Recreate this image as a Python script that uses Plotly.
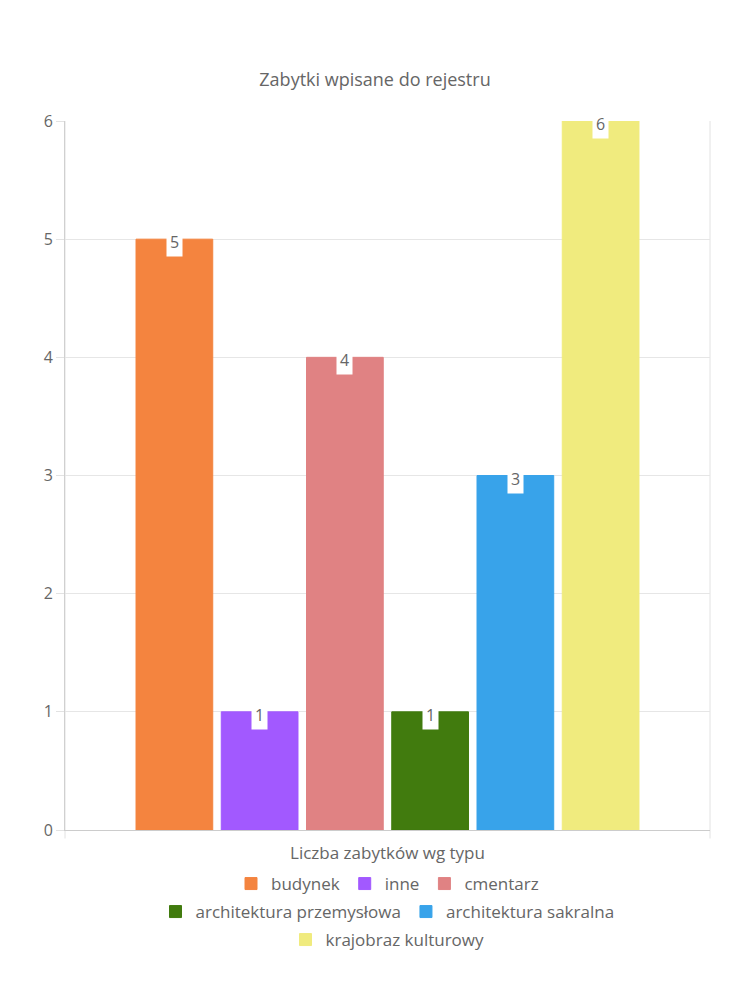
import plotly.graph_objects as go

category = ["Liczba zabytków wg typu"]
series_names = ["budynek", "inne", "cmentarz", "architektura przemysłowa",
                "architektura sakralna", "krajobraz kulturowy"]
series_values = [5, 1, 4, 1, 3, 6]
series_colors = ["#f4843f", "#a259ff", "#e08283", "#417b0e", "#38a3ea", "#f0eb7e"]
legend_rows = ["legend", "legend", "legend", "legend2", "legend2", "legend3"]

W, H = 750, 1000
M_L, M_R, M_T, M_B = 65, 40, 121, 170
BARGAP, BARGROUPGAP = 0.207, 0.1
TXT = "#666666"
FONT = "'Open Sans', 'Noto Sans', sans-serif"

fig = go.Figure()
for name, val, col, lg in zip(series_names, series_values, series_colors, legend_rows):
    fig.add_trace(go.Bar(x=category, y=[val], name=name, marker_color=col,
                         marker_line_color=col, marker_line_width=1,
                         legend=lg, hoverinfo="skip"))

plot_w = W - M_L - M_R
group_w = (1 - BARGAP) * plot_w
slot = group_w / len(series_values)
for i, val in enumerate(series_values):
    off = -group_w / 2 + slot * (i + 0.5)
    fig.add_annotation(x=category[0], y=val, xref="x", yref="y", text=str(val),
                       showarrow=False, xshift=off, yshift=-3, yanchor="middle",
                       bgcolor="white", borderpad=3,
                       font=dict(size=16, color=TXT, family=FONT))

# frame lines at category boundaries
for px in (0, 1):
    fig.add_shape(type="line", xref="paper", yref="paper", x0=px, x1=px,
                  y0=-0.012, y1=1, line=dict(color="#e2e2e2", width=1), layer="below")

plot_h = H - M_T - M_B
def leg(ypix):
    return dict(orientation="h", x=0.5, xanchor="center",
                y=(H - M_B - ypix) / plot_h, yanchor="middle",
                font=dict(size=17, color=TXT, family=FONT), traceorder="normal",
                bgcolor="rgba(0,0,0,0)")

fig.update_layout(
    width=W, height=H,
    margin=dict(l=M_L, r=M_R, t=M_T, b=M_B),
    paper_bgcolor="white", plot_bgcolor="white",
    font=dict(family=FONT, color=TXT, size=16),
    title=dict(text="Zabytki wpisane do rejestru", x=0.5, xanchor="center",
               y=1 - 80 / H, yanchor="middle", font=dict(size=18, color=TXT)),
    barmode="group", bargap=BARGAP, bargroupgap=BARGROUPGAP,
    showlegend=True,
    legend=leg(884), legend2=leg(912), legend3=leg(940),
    xaxis=dict(showgrid=False, showline=True, linecolor="#cccccc", linewidth=1,
               ticks="outside", ticklen=8, tickcolor="rgba(0,0,0,0)",
               tickfont=dict(size=17, color=TXT), fixedrange=True),
    yaxis=dict(range=[0, 6], dtick=1, showgrid=True, gridcolor="#e6e6e6",
               zeroline=False, showline=True, linecolor="#d0d0d0",
               ticks="outside", ticklen=8, tickcolor="#e2e2e2",
               tickfont=dict(size=16, color=TXT)),
)

fig.write_html("out.html")
